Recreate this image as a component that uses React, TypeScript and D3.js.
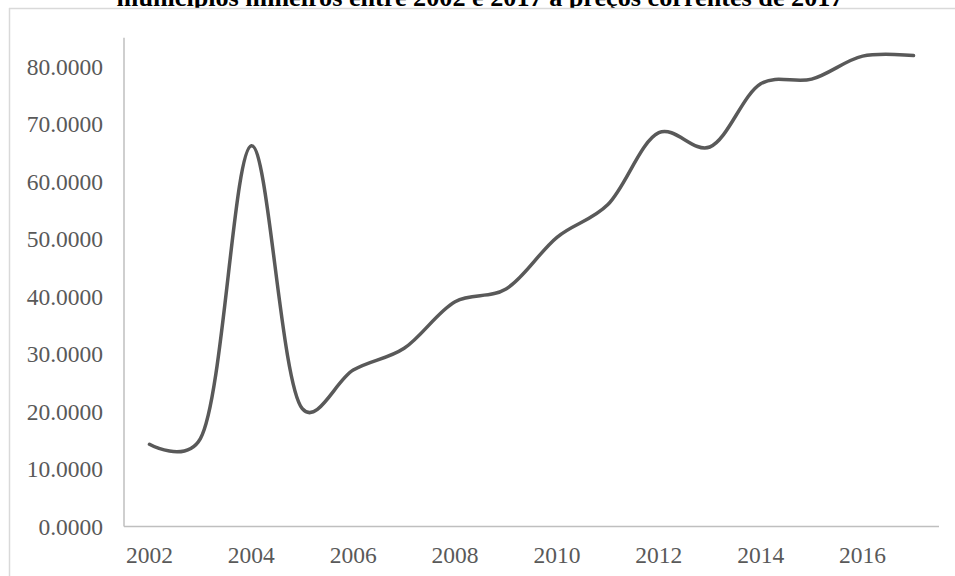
import React from "react";
import * as d3 from "d3";

// PIB per capita series, 2002–2017
const years: string[] = [
  "2002", "2003", "2004", "2005", "2006", "2007", "2008", "2009",
  "2010", "2011", "2012", "2013", "2014", "2015", "2016", "2017",
];
const values: number[] = [
  14.3, 15.3, 66.2, 20.5, 27.2, 31.0, 39.1, 41.3,
  50.3, 56.0, 68.5, 66.0, 77.0, 77.8, 81.8, 81.9,
];
const yTicks: number[] = [0, 10, 20, 30, 40, 50, 60, 70, 80];
const xTickLabels: string[] = ["2002", "2004", "2006", "2008", "2010", "2012", "2014", "2016"];
const title = "municípios mineiros entre 2002 e 2017 a preços correntes de 2017";

const W = 955;
const H = 576;
const plot = { left: 124, right: 939, top: 37.75, bottom: 526.5 };
const FONT = "'Liberation Serif', 'Times New Roman', serif";
const TEXT = "#595959";
const AXIS = "#bfbfbf";

export default function App() {
  const x = d3.scaleBand<string>().domain(years).range([plot.left, plot.right]);
  const y = d3.scaleLinear().domain([0, 85]).range([plot.bottom, plot.top]);
  const cx = (yr: string) => (x(yr) as number) + x.bandwidth() / 2;

  const line = d3
    .line<number>()
    .x((_, i) => cx(years[i]))
    .y((d) => y(d))
    .curve(d3.curveCatmullRom.alpha(0.25));

  return (
    <svg
      width={W}
      height={H}
      style={{ position: "absolute", left: 0, top: 0, background: "#fff" }}
      fontFamily={FONT}
    >
      <rect x={0} y={0} width={W} height={H} fill="#fff" />
      <text x={480} y={6} textAnchor="middle" fontSize={26.2} fontWeight="bold" fill="#000">
        {title}
      </text>
      {/* chart box */}
      <rect x={9} y={8} width={W} height={H} fill="#fff" />
      <line x1={9} x2={W} y1={8.5} y2={8.5} stroke="#d9d9d9" strokeWidth={1.5} />
      <line x1={9.5} x2={9.5} y1={8} y2={H} stroke="#d9d9d9" strokeWidth={1.5} />

      {/* axes */}
      <line x1={plot.left} x2={plot.left} y1={plot.top} y2={plot.bottom} stroke={AXIS} strokeWidth={1.5} />
      <line x1={plot.left} x2={plot.right} y1={plot.bottom} y2={plot.bottom} stroke={AXIS} strokeWidth={1.5} />

      {yTicks.map((t) => (
        <text key={t} x={103} y={y(t) + 8} textAnchor="end" fontSize={23.5} fill={TEXT}>
          {t.toFixed(4)}
        </text>
      ))}
      {xTickLabels.map((lbl) => (
        <text key={lbl} x={cx(lbl)} y={563} textAnchor="middle" fontSize={23.5} fill={TEXT}>
          {lbl}
        </text>
      ))}

      <path
        d={line(values) || ""}
        fill="none"
        stroke="#595959"
        strokeWidth={3.5}
        strokeLinecap="round"
        strokeLinejoin="round"
      />
    </svg>
  );
}
